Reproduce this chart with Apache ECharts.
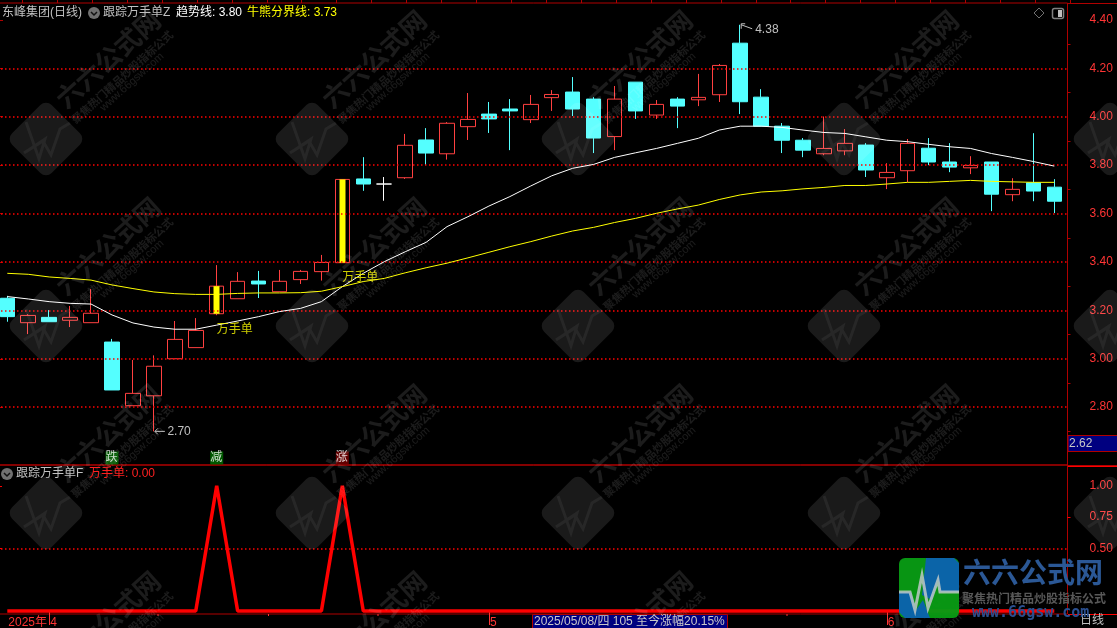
<!DOCTYPE html>
<html><head><meta charset="utf-8">
<style>html,body{margin:0;padding:0;background:#000;overflow:hidden}#c{width:1117px;height:628px}</style>
<script src="https://cdn.jsdelivr.net/npm/echarts@6/dist/echarts.min.js"></script>
</head><body><div id="c"></div>
<script>
const dates=['03-28','03-31','04-01','04-02','04-03','04-07','04-08','04-09','04-10','04-11','04-14','04-15','04-16','04-17','04-18','04-21','04-22','04-23','04-24','04-25','04-28','04-29','04-30','05-06','05-07','05-08','05-09','05-12','05-13','05-14','05-15','05-16','05-19','05-20','05-21','05-22','05-23','05-26','05-27','05-28','05-29','05-30','06-03','06-04','06-05','06-06','06-09','06-10','06-11','06-12','06-13'];
const opens=[3.25,3.149,3.171,3.159,3.149,3.069,2.806,2.847,3.0,3.046,3.186,3.248,3.321,3.277,3.327,3.36,3.397,3.743,3.722,3.748,3.904,3.847,3.959,4.011,4.032,3.988,4.079,4.102,4.073,3.918,4.143,4.007,4.073,4.07,4.091,4.304,4.081,3.961,3.903,3.847,3.859,3.883,3.748,3.777,3.87,3.813,3.789,3.813,3.678,3.727,3.709];
const closes=[3.174,3.179,3.153,3.171,3.188,2.871,2.857,2.969,3.08,3.117,3.30,3.32,3.309,3.32,3.361,3.398,3.741,3.722,3.722,3.882,3.85,3.973,3.989,3.991,4.024,4.051,4.092,4.032,3.912,4.073,4.024,4.051,4.044,4.08,4.212,4.062,3.961,3.903,3.862,3.869,3.89,3.78,3.77,3.89,3.813,3.792,3.799,3.68,3.70,3.693,3.651];
const highs=[3.26,3.184,3.201,3.218,3.288,3.082,2.995,3.014,3.156,3.168,3.387,3.358,3.363,3.367,3.367,3.429,3.741,3.833,3.751,3.929,3.953,3.978,4.098,4.061,4.073,4.09,4.11,4.164,4.081,4.127,4.143,4.069,4.081,4.177,4.218,4.38,4.114,3.974,3.912,4.001,3.949,3.891,3.808,3.908,3.912,3.891,3.837,3.813,3.746,3.932,3.742];
const lows=[3.153,3.102,3.153,3.131,3.149,2.871,2.806,2.70,3.0,3.046,3.18,3.248,3.251,3.277,3.309,3.323,3.397,3.694,3.653,3.743,3.80,3.823,3.904,3.933,3.862,3.974,4.024,4.003,3.85,3.862,3.991,3.991,3.953,4.044,4.061,4.011,3.961,3.85,3.833,3.841,3.841,3.751,3.701,3.73,3.80,3.771,3.763,3.61,3.651,3.651,3.602];
const trendLine=[3.257,3.247,3.236,3.229,3.226,3.181,3.148,3.131,3.122,3.122,3.139,3.156,3.174,3.195,3.208,3.236,3.298,3.353,3.401,3.442,3.481,3.546,3.587,3.631,3.67,3.714,3.756,3.787,3.803,3.832,3.851,3.869,3.89,3.911,3.945,3.961,3.961,3.956,3.945,3.935,3.931,3.917,3.903,3.897,3.886,3.876,3.869,3.848,3.832,3.815,3.796];
const bullBearLine=[3.353,3.349,3.338,3.332,3.325,3.305,3.29,3.276,3.269,3.266,3.266,3.27,3.272,3.272,3.273,3.279,3.298,3.319,3.332,3.355,3.376,3.395,3.417,3.44,3.463,3.484,3.507,3.528,3.543,3.563,3.58,3.601,3.619,3.635,3.658,3.677,3.689,3.694,3.702,3.708,3.716,3.716,3.722,3.729,3.729,3.733,3.737,3.733,3.731,3.729,3.729];
const signal=[0,0,0,0,0,0,0,0,0,0,1,0,0,0,0,0,1,0,0,0,0,0,0,0,0,0,0,0,0,0,0,0,0,0,0,0,0,0,0,0,0,0,0,0,0,0,0,0,0,0,0];
const wanshou=[10,16];
const wanshouLabels=[[10,3.119],[16,3.333]];
const flags=[[5,2.59,'跌','#006f00'],[10,2.59,'减','#006f00'],[16,2.59,'涨','#7a0000']];
const extremes=[[7,2.70,'2.70','low'],[35,4.38,'4.38','high']];
const priceTicks=[2.8,3.0,3.2,3.4,3.6,3.8,4.0,4.2,4.4];
const priceMinor=[2.7,2.9,3.1,3.3,3.5,3.7,3.9,4.1,4.3];
const gridLevels=[2.8,3.0,3.2,3.4,3.6,3.8,4.0,4.2];
const subTicks=[0.5,1.0];
const subMinor=[0.75];
const monthFirst={0:'2025年',2:'4',23:'5',42:'6'};

const FONT='"Liberation Sans","Noto Sans CJK SC",sans-serif';
const RED='#ff3535',CYAN='#54ffff',GRID='#b00000';
const candles=dates.map((d,i)=>[opens[i],closes[i],lows[i],highs[i]]);
const yellowBodies=dates.map((d,i)=>wanshou.includes(i)?[opens[i],closes[i],opens[i],closes[i]]:['-','-','-','-']);

const g=[];
const WM='rgba(255,255,255,0.10)',WT='rgba(255,255,255,0.11)';
const ang=42*Math.PI/180;
[139,326,513,700].forEach(cy=>{for(let k=0;k<5;k++){const cx=46+266*k;
 g.push({type:'rect',x:cx,y:cy,rotation:Math.PI/4,shape:{x:-28,y:-28,width:56,height:56,r:8},style:{fill:WM},z:100,silent:true});
 g.push({type:'polyline',x:cx,y:cy,shape:{points:[[-20,-17],[-7,20],[-1,0],[-22,14],[-3,2],[5,16],[14,-10],[24,-16]]},style:{stroke:'rgba(255,255,255,0.06)',lineWidth:3,fill:null},z:100,silent:true});
 [['六六公式网','bold 26px "Noto Sans CJK SC"',62,-80],['聚焦热门精品炒股指标公式','bold 11px "Noto Sans CJK SC"',76,-62],['www.66gsw.com','11px "Liberation Sans"',86,-57]].forEach(t=>{
  g.push({type:'text',x:cx+t[2],y:cy+t[3],rotation:ang,style:{text:t[0],font:t[1],fill:WT,align:'center',verticalAlign:'middle'},z:100,silent:true});
 });
}});
const T=(text,x,y,fill,font)=>g.push({type:'text',x,y,style:{text,fill,font:font||('12px '+FONT),verticalAlign:'middle'},z:110,silent:true});
T('东峰集团(日线)',2,13,'#c0c0c0');
T('跟踪万手单Z',103,13,'#c0c0c0');
T('趋势线: 3.80',176,13,'#ffffff');
T('牛熊分界线: 3.73',247,13,'#ffff00');
T('跟踪万手单F',16,474,'#c0c0c0');
T('万手单: 0.00',89,474,'#ff2020');
T('日线',1080,621,'#c0c0c0');
const check=(cx,cy)=>{
 g.push({type:'circle',shape:{cx,cy,r:6},style:{fill:'#707070'},z:110,silent:true});
 g.push({type:'polyline',shape:{points:[[cx-3,cy-1],[cx,cy+2],[cx+3,cy-1]]},style:{stroke:'#111',lineWidth:1.5,fill:null},z:110,silent:true});
};
check(94,13);check(7,474);
g.push({type:'polygon',shape:{points:[[1039,8],[1044,13],[1039,18],[1034,13]]},style:{stroke:'#707070',fill:null,lineWidth:1},z:110,silent:true});
g.push({type:'rect',shape:{x:1052.5,y:8.5,width:11,height:10,r:2},style:{stroke:'#808080',fill:null,lineWidth:1.5},z:110,silent:true});
g.push({type:'rect',shape:{x:1058,y:10,width:4,height:7},style:{fill:'#c0c0c0'},z:110,silent:true});
for(let k=0;k<31;k++){const x=Math.round(22+34.93*k)+.5;g.push({type:'line',shape:{x1:x,y1:0,x2:x,y2:3},style:{stroke:GRID,lineWidth:1},z:90,silent:true});}
[[1067,3.5,1117,3.5,GRID,1],[1067,465.5,1117,465.5,GRID,1],[1068,466.5,1117,466.5,'#ff0000',1],[1068,614.5,1117,614.5,'#ff0000',1]].forEach(l=>g.push({type:'line',shape:{x1:l[0],y1:l[1],x2:l[2],y2:l[3]},style:{stroke:l[4],lineWidth:l[5]},z:90,silent:true}));
[158,268.5,378,787].forEach(x=>g.push({type:'line',shape:{x1:x,y1:614,x2:x,y2:616},style:{stroke:RED,lineWidth:1},z:90,silent:true}));
g.push({type:'rect',shape:{x:1068,y:435.5,width:50,height:16},style:{fill:'#000080',stroke:GRID,lineWidth:1},z:105,silent:true});
T('2.62',1069,444,'#c8c8c8');
g.push({type:'rect',shape:{x:532.5,y:614.5,width:195,height:14},style:{fill:'#000080',stroke:GRID,lineWidth:1},z:105,silent:true});
T('2025/05/08/四 105 至今涨幅20.15%',534,621.5,'#c8c8c8');
g.push({type:'rect',shape:{x:899,y:558,width:60,height:60,r:6},style:{fill:'rgba(8,155,20,0.96)'},z:120,silent:true});
g.push({type:'polygon',shape:{points:[[926,558],[954,558],[959,563],[959,592],[940,592],[938,580],[932,600],[922,595]]},style:{fill:'#0b64a8'},z:121,silent:true});
g.push({type:'polygon',shape:{points:[[899,592],[911,592],[916,610],[923,600],[930,618],[905,618],[899,612]]},style:{fill:'#0b64a8'},z:121,silent:true});
g.push({type:'polyline',shape:{points:[[899,592],[910,592],[915,610],[922,575],[928,608],[938,580],[940,592],[959,592]]},style:{stroke:'rgba(190,200,200,0.85)',lineWidth:3,fill:null},z:122,silent:true});
T('六六公式网',963,572,'#2b5896','bold 28px "Noto Sans CJK SC"');
T('聚焦热门精品炒股指标公式',962,598,'#585858','bold 12px "Noto Sans CJK SC"');
T('www.66gsw.com',972,613,'#2a4f90','bold 15px "DejaVu Sans Mono"');
g.slice(-3).forEach(e=>e.z=120);

const dots={color:'#ff0000',type:[1.5,2.5],width:1.6,opacity:1};
const hiddenAxis=(i)=>({type:'value',gridIndex:i,min:0,max:1,show:false});
const option={
 animation:false,backgroundColor:'#000',
 grid:[
  {left:-3.17,top:3,width:1067.94,height:462,outerBoundsMode:'none'},
  {left:-3.17,top:466,width:1067.94,height:148,outerBoundsMode:'none'},
  {left:-3,top:3,width:1070.5,height:462,show:true,borderColor:GRID,borderWidth:1,backgroundColor:'transparent',outerBoundsMode:'none'},
  {left:-3,top:465,width:1070.5,height:149,show:true,borderColor:GRID,borderWidth:1,backgroundColor:'transparent',outerBoundsMode:'none'}
 ],
 xAxis:[
  {type:'category',gridIndex:0,data:dates,show:false},
  {type:'category',gridIndex:1,data:dates,position:'bottom',
   axisLine:{show:false},splitLine:{show:false},
   axisTick:{show:true,alignWithLabel:true,length:14,interval:i=>i===2||i===23||i===42,lineStyle:{color:RED}},
   axisLabel:{show:true,interval:i=>monthFirst[i]!==undefined,formatter:(v,i)=>monthFirst[i]||'',color:RED,align:'left',margin:2,padding:[0,0,0,1],fontFamily:FONT,fontSize:12,verticalAlign:'top',lineHeight:13}},
  hiddenAxis(2),hiddenAxis(3)
 ],
 yAxis:[
  {type:'value',gridIndex:0,min:2.561,max:4.47,show:false},
  {type:'value',gridIndex:1,min:-0.024,max:1.158,show:false},
  {type:'value',gridIndex:2,position:'right',min:2.561,max:4.47,splitLine:{show:false},
   axisLine:{show:true,lineStyle:{color:GRID}},axisTick:{show:true,length:6,customValues:priceTicks,lineStyle:{color:GRID}},
   axisLabel:{customValues:priceTicks,formatter:v=>v.toFixed(2),color:RED,margin:22,align:'left',fontFamily:FONT,fontSize:12}},
  {type:'value',gridIndex:2,position:'right',min:2.561,max:4.47,splitLine:{show:false},
   axisLine:{show:false},axisTick:{show:true,length:3,customValues:priceMinor,lineStyle:{color:GRID}},axisLabel:{show:false}},
  {type:'value',gridIndex:3,position:'right',min:-0.024,max:1.166,splitLine:{show:false},
   axisLine:{show:true,lineStyle:{color:'#ff0000',width:2}},axisTick:{show:true,length:5,customValues:subTicks,lineStyle:{color:'#ff0000'}},
   axisLabel:{customValues:[0.5,0.75,1.0],formatter:v=>v.toFixed(2),color:RED,margin:22,align:'left',fontFamily:FONT,fontSize:12}},
  {type:'value',gridIndex:3,position:'right',min:-0.024,max:1.166,splitLine:{show:false},
   axisLine:{show:false},axisTick:{show:true,length:3,customValues:subMinor,lineStyle:{color:'#ff0000'}},axisLabel:{show:false}}
 ],
 series:[
  {type:'line',xAxisIndex:2,yAxisIndex:2,data:[[0,3]],showSymbol:false,z:1,silent:true,
   markLine:{silent:true,symbol:'none',animation:false,label:{show:false},lineStyle:dots,data:gridLevels.map(v=>({yAxis:v}))}},
  {type:'line',xAxisIndex:3,yAxisIndex:4,data:[[0,0.5]],showSymbol:false,z:1,silent:true,
   markLine:{silent:true,symbol:'none',animation:false,label:{show:false},lineStyle:dots,data:[{yAxis:0.5}]}},
  {type:'candlestick',name:'K',xAxisIndex:0,yAxisIndex:0,data:candles,barWidth:15,z:3,
   itemStyle:{color:'rgba(0,0,0,0)',color0:CYAN,borderColor:'#ff4040',borderColor0:CYAN,borderColorDoji:'#ffffff',borderWidth:1}},
  {type:'candlestick',name:'万手单柱',xAxisIndex:0,yAxisIndex:0,data:yellowBodies,barWidth:7,z:4,
   itemStyle:{color:'#ffff00',color0:'#ffff00',borderColor:'#ffff00',borderColor0:'#ffff00',borderWidth:0}},
  {type:'line',name:'趋势线',xAxisIndex:0,yAxisIndex:0,data:trendLine,symbol:'none',lineStyle:{color:'#ffffff',width:1},z:5},
  {type:'line',name:'牛熊分界线',xAxisIndex:0,yAxisIndex:0,data:bullBearLine,symbol:'none',lineStyle:{color:'#ffff00',width:1},z:5},
  {type:'scatter',xAxisIndex:0,yAxisIndex:0,data:wanshouLabels,symbolSize:0,z:6,
   label:{show:true,position:'right',distance:0,formatter:'万手单',color:'#ffff00',fontSize:12,fontFamily:FONT}},
  {type:'scatter',xAxisIndex:0,yAxisIndex:0,data:flags.map(f=>({value:[f[0],f[1]],label:{formatter:f[2],backgroundColor:f[3]}})),symbolSize:0,z:6,
   label:{show:true,position:'inside',color:'#fff',fontSize:12,fontFamily:FONT,padding:[0,1,0,0],lineHeight:13}},
  {type:'custom',xAxisIndex:0,yAxisIndex:0,data:extremes.map(e=>({value:[e[0],e[1]],name:e[2]})),z:6,silent:true,
   renderItem:(p,api)=>{const c=api.coord([api.value(0),api.value(1)]);const e=extremes[p.dataIndex];const x=c[0],y=c[1];const st={stroke:'#c0c0c0',lineWidth:1,fill:null};
    const tx=e[3]==='low'?x+13.5:x+15,ty=e[3]==='low'?y:y+4.5;
    const kids=[{type:'text',x:tx,y:ty,style:{text:e[2],fill:'#c0c0c0',font:'12px '+FONT,verticalAlign:'middle'}}];
    if(e[3]==='low'){kids.push({type:'polyline',shape:{points:[[x+11,y],[x+1,y]]},style:st},{type:'polyline',shape:{points:[[x+4,y-3],[x+1,y],[x+4,y+3]]},style:st});}
    else{kids.push({type:'polyline',shape:{points:[[x+1,y],[x+12,y+4]]},style:st},{type:'polyline',shape:{points:[[x+5,y-1],[x+1,y-1],[x+1,y+4]]},style:st});}
    return {type:'group',children:kids};}},
  {type:'line',name:'万手单',xAxisIndex:1,yAxisIndex:1,data:signal,symbol:'none',lineStyle:{color:'#ff0000',width:3.5,join:'bevel'},z:5,clip:false}
 ],
 graphic:{elements:g}
};
const chart=echarts.init(document.getElementById('c'),null,{renderer:'canvas',width:1117,height:628});
chart.setOption(option);
</script></body></html>
